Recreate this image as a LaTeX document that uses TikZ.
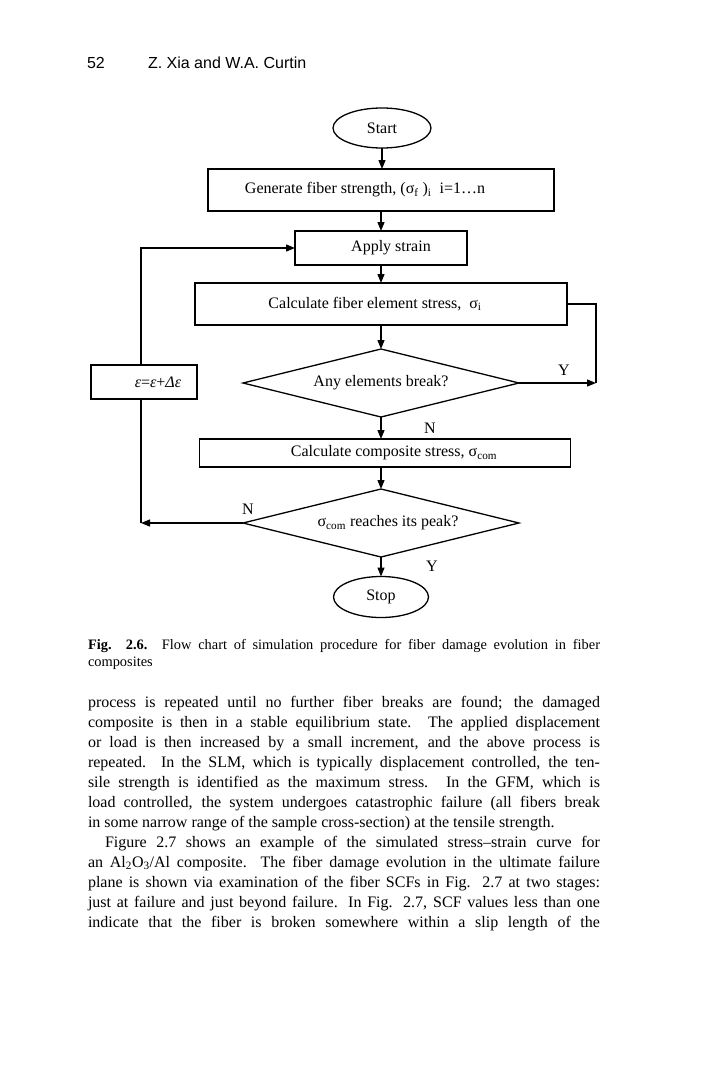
\documentclass[tikz,border=0pt]{standalone}
\usepackage{fontspec}
\setmainfont{Liberation Serif}
\newfontfamily\hdrfont{Liberation Sans}
\usetikzlibrary{shapes.geometric,arrows.meta}
\begin{document}
\begin{tikzpicture}[x=1pt,y=-1pt,
  every node/.style={inner sep=0pt, outer sep=0pt},
  fc/.style={font=\fontsize{16}{19}\selectfont},
  pbox/.style={draw, line width=1.3pt, rectangle, fc},
  term/.style={draw, line width=1.3pt, ellipse, fc},
  dec/.style={draw, line width=1.3pt, diamond, fc},
  flow/.style={line width=1.3pt, -{Triangle[length=9pt,width=7pt]}},
  link/.style={line width=1.3pt},
  lbl/.style={fc}
]
\useasboundingbox (0,0) rectangle (702,1065);
\fill[white] (0,0) rectangle (702,1065);

% running head
\node[anchor=base west, font=\hdrfont\fontsize{16}{19}\selectfont] (pg) at (87,69) {52};
\node[anchor=base west, font=\hdrfont\fontsize{16}{19}\selectfont] (hd) at (148,69) {Z. Xia and W.A. Curtin};

% flowchart
\node[term, minimum width=98pt, minimum height=40pt] (start) at (382,128) {Start};
\node[pbox, minimum width=346pt, minimum height=42pt,
  label={[fc, xshift=-16pt]center:Generate fiber strength, (σ\textsubscript{f} )\textsubscript{i}\enspace i=1…n}] (gen) at (381,190) {};
\node[pbox, minimum width=172pt, minimum height=34pt,
  label={[fc, xshift=10pt]center:Apply strain}] (apply) at (381,248) {};
\node[pbox, minimum width=372pt, minimum height=42pt,
  label={[fc, xshift=-6pt]center:Calculate fiber element stress,\enspace σ\textsubscript{i}}] (calcf) at (381,304) {};
\node[dec, minimum width=276pt, minimum height=68pt,
  label={[fc]center:Any elements break?}] (d1) at (381,383) {};
\node[pbox, minimum width=371pt, minimum height=28pt,
  label={[fc, xshift=9pt]center:Calculate composite stress, σ\textsubscript{com}}] (calcc) at (385,453) {};
\node[dec, minimum width=276pt, minimum height=68pt,
  label={[fc, xshift=7pt]center:σ\textsubscript{com} reaches its peak?}] (d2) at (381,523) {};
\node[term, minimum width=95pt, minimum height=41pt] (stop) at (381,597) {Stop};
\node[pbox, minimum width=106pt, minimum height=34pt,
  label={[fc, xshift=14pt]center:\textit{ε}=\textit{ε}+\textit{Δε}}] (eps) at (144,382) {};

\coordinate (rc) at (596,383);
\coordinate (lc) at (141,523);

\draw[flow] (start.south) -- (start.south |- gen.north);
\draw[flow] (gen) -- (apply);
\draw[flow] (apply) -- (calcf);
\draw[flow] (calcf) -- (d1);
\draw[flow] (d1.south) -- (d1.south |- calcc.north);
\draw[flow] (d2.north |- calcc.south) -- (d2.north);
\draw[flow] (d2) -- (stop);
\draw[link] (calcf.east) -| (rc);
\draw[flow] (d1.east) -- (rc);
\draw[flow] (d2.west) -- (lc);
\draw[link] (lc) -- (lc |- eps.south);
\draw[flow] (lc |- eps.north) |- (apply.west);

\node[lbl] (ly) at (564,370) {Y};
\node[lbl] (ln) at (430,428) {N};
\node[lbl] (ln2) at (248,509) {N};
\node[lbl] (ly2) at (432,566) {Y};

% caption
\node[anchor=base west] (cap) at (88,649) {\parbox[t]{512pt}{\fontsize{14.4}{17}\selectfont
\noindent\textbf{Fig. 2.6.} Flow chart of simulation procedure for fiber damage evolution in fiber\linebreak composites}};

% body text
\node[anchor=base west] (body) at (88,707) {\parbox[t]{512pt}{\fontsize{16}{20}\selectfont\parindent=17pt\relax
\noindent process is repeated until no further fiber breaks are found; the damaged\linebreak
composite is then in a stable equilibrium state. The applied displacement\linebreak
or load is then increased by a small increment, and the above process is\linebreak
repeated. In the SLM, which is typically displacement controlled, the ten-\linebreak
sile strength is identified as the maximum stress. In the GFM, which is\linebreak
load controlled, the system undergoes catastrophic failure (all fibers break\linebreak
in some narrow range of the sample cross-section) at the tensile strength.\par
Figure 2.7 shows an example of the simulated stress–strain curve for\linebreak
an Al\textsubscript{2}O\textsubscript{3}/Al composite. The fiber damage evolution in the ultimate failure\linebreak
plane is shown via examination of the fiber SCFs in Fig. 2.7 at two stages:\linebreak
just at failure and just beyond failure. In Fig. 2.7, SCF values less than one\linebreak
indicate that the fiber is broken somewhere within a slip length of the\parfillskip=0pt\par}};
\end{tikzpicture}
\end{document}
